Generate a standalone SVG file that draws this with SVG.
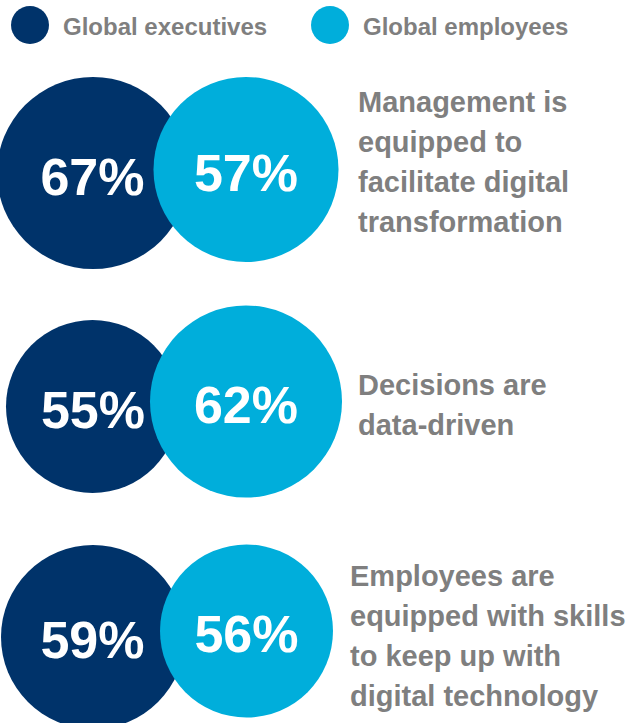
<svg xmlns="http://www.w3.org/2000/svg" width="630" height="723" viewBox="0 0 630 723">
<style>
.exec{fill:#00336A}
.emp{fill:#00AEDB}
.pct{font-family:"Liberation Sans",Arial,sans-serif;font-weight:bold;font-size:52px;fill:#FFFFFF;text-anchor:middle}
.lbl{font-family:"Liberation Sans",Arial,sans-serif;font-weight:bold;font-size:29px;fill:#7F7F7F}
.leg{font-family:"Liberation Sans",Arial,sans-serif;font-weight:bold;font-size:24px;fill:#7F7F7F}
</style>
<rect width="630" height="723" fill="#FFFFFF"/>
<g id="legend">
  <g id="legend-executives">
    <circle class="exec" cx="30" cy="25" r="19"/>
    <text class="leg" x="63" y="35">Global executives</text>
  </g>
  <g id="legend-employees">
    <circle class="emp" cx="330" cy="25" r="19"/>
    <text class="leg" x="363" y="35">Global employees</text>
  </g>
</g>
<g id="row1">
  <g id="row1-exec">
    <circle class="exec" cx="93" cy="173" r="96"/>
    <text class="pct" x="92.5" y="195">67%</text>
  </g>
  <g id="row1-emp">
    <circle class="emp" cx="246" cy="169.5" r="92.5"/>
    <text class="pct" x="246" y="191">57%</text>
  </g>
  <g id="row1-label">
    <text class="lbl" x="358" y="112">Management is</text>
    <text class="lbl" x="358" y="152">equipped to</text>
    <text class="lbl" x="358" y="192">facilitate digital</text>
    <text class="lbl" x="358" y="232">transformation</text>
  </g>
</g>
<g id="row2">
  <g id="row2-exec">
    <circle class="exec" cx="92.5" cy="406.5" r="86.5"/>
    <text class="pct" x="93" y="428">55%</text>
  </g>
  <g id="row2-emp">
    <circle class="emp" cx="246" cy="401.5" r="96"/>
    <text class="pct" x="246" y="423">62%</text>
  </g>
  <g id="row2-label">
    <text class="lbl" x="358" y="395">Decisions are</text>
    <text class="lbl" x="358" y="435">data-driven</text>
  </g>
</g>
<g id="row3">
  <g id="row3-exec">
    <circle class="exec" cx="93" cy="637" r="92"/>
    <text class="pct" x="92.5" y="658">59%</text>
  </g>
  <g id="row3-emp">
    <circle class="emp" cx="246.5" cy="631" r="86.5"/>
    <text class="pct" x="246.5" y="652">56%</text>
  </g>
  <g id="row3-label">
    <text class="lbl" x="350" y="586">Employees are</text>
    <text class="lbl" x="350" y="626">equipped with skills</text>
    <text class="lbl" x="350" y="666">to keep up with</text>
    <text class="lbl" x="350" y="706">digital technology</text>
  </g>
</g>
</svg>
